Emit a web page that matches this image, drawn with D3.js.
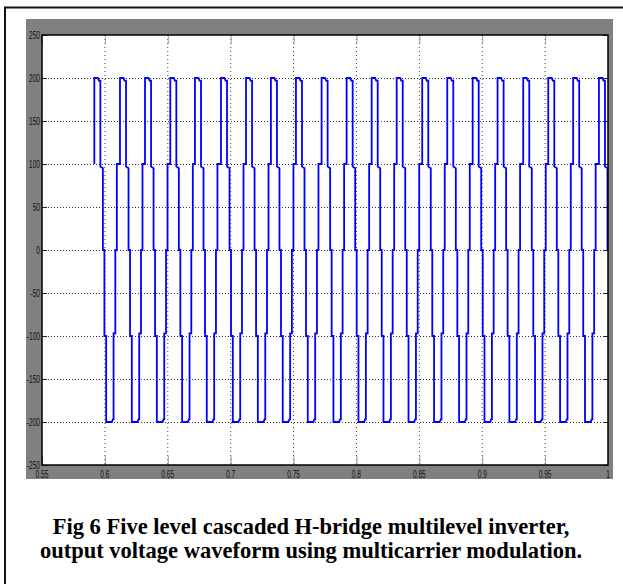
<!DOCTYPE html>
<html>
<head>
<meta charset="utf-8">
<script src="https://cdn.jsdelivr.net/npm/d3@7"></script>
<style>
  body { margin: 0; background: #fff; }
  svg { display: block; }
</style>
</head>
<body>
<script>
// rise times (s) of each 100 -> 200 edge
var riseTimes = [0.5916, 0.6120, 0.6319, 0.6520, 0.6716, 0.6923, 0.7122, 0.7320, 0.7519, 0.7723,
    0.7922, 0.8121, 0.8320, 0.8523, 0.8722, 0.8924, 0.9122, 0.9326, 0.9525, 0.9723, 0.9928];
// one cycle of the stepped waveform: time after the rise (ms) and level (V)
var stepTimes = [0, 0, 2.8, 3.6, 4.8, 4.8, 6.8, 6.8, 8.0, 8.0, 9.4, 9.4, 13.9, 14.7, 15.3, 15.3, 16.7, 16.7, 17.9, 17.9];
var stepLevels = [100, 200, 200, 197, 197, 97, 95, 0, 0, -100, -100, -200, -200, -197, -197, -97, -97, 0, 0, 100];
var xTicks = [0.55, 0.6, 0.65, 0.7, 0.75, 0.8, 0.85, 0.9, 0.95, 1];
var yTicks = [-250, -200, -150, -100, -50, 0, 50, 100, 150, 200, 250];

var width = 623;
var height = 584;

var margin = {
    left: 42,
    right: 15,
    top: 35,
    bottom: 119
}
var w = width - margin.left - margin.right;
var h = height - margin.top - margin.bottom;

// build the waveform points
var wave = [];
riseTimes.forEach(function (t0) {
    stepTimes.forEach(function (dt, i) {
        wave.push([t0 + dt / 1000, stepLevels[i]]);
    });
});

var x = d3.scaleLinear()
    .domain([0.55, 1])
    .range([0, w]);

var y = d3.scaleLinear()
    .domain([-250, 250])
    .range([h, 0]);

var svg = d3.select("body").append("svg").attr("width", width).attr("height", height);

// outer frame of the figure
svg.append("rect")
    .attr("x", 5).attr("y", 7.5)
    .attr("width", 700).attr("height", 700)
    .attr("fill", "none").attr("stroke", "#111").attr("stroke-width", 2);

// grey matlab figure background
svg.append("rect")
    .attr("x", 26).attr("y", 19)
    .attr("width", 587).attr("height", 460)
    .attr("fill", "#808080");

var chartGroup = svg.append("g").attr("transform",
    "translate(" + margin.left + ", " + margin.top + ")");

chartGroup.append("rect")
    .attr("width", w).attr("height", h)
    .attr("fill", "#fff");

// dotted grid
chartGroup.selectAll(".gx").data(xTicks.slice(1, -1)).enter().append("line")
    .attr("x1", function (d) { return x(d); }).attr("x2", function (d) { return x(d); })
    .attr("y1", 0).attr("y2", h)
    .attr("stroke", "#444").attr("stroke-width", 1).attr("stroke-dasharray", "1,3");
chartGroup.selectAll(".gy").data(yTicks.slice(1, -1)).enter().append("line")
    .attr("x1", 0).attr("x2", w)
    .attr("y1", function (d) { return Math.round(y(d)) + 0.5; })
    .attr("y2", function (d) { return Math.round(y(d)) + 0.5; })
    .attr("stroke", "#333").attr("stroke-width", 1).attr("stroke-dasharray", "1,2");

// inward ticks on every side
var tickStyle = function (g, col) {
    g.select(".domain").remove();
    g.selectAll("text").remove();
    g.selectAll("line").attr("stroke", col);
};
chartGroup.append("g").attr("transform", "translate(0," + h + ")")
    .call(d3.axisBottom(x).tickValues(xTicks).tickSize(-9))
    .call(tickStyle, "#999");
chartGroup.append("g")
    .call(d3.axisTop(x).tickValues(xTicks).tickSize(-9))
    .call(tickStyle, "#999");
chartGroup.append("g")
    .call(d3.axisLeft(y).tickValues(yTicks).tickSize(-5))
    .call(tickStyle, "#222");
chartGroup.append("g").attr("transform", "translate(" + w + ",0)")
    .call(d3.axisRight(y).tickValues(yTicks).tickSize(-5))
    .call(tickStyle, "#222");

// waveform
chartGroup.append("clipPath").attr("id", "plotclip")
    .append("rect").attr("width", w).attr("height", h);

var line = d3.line()
    .x(function (d) { return x(d[0]); })
    .y(function (d) { return y(d[1]); });

chartGroup.append("path")
    .attr("d", line(wave))
    .attr("clip-path", "url(#plotclip)")
    .attr("fill", "none")
    .attr("stroke", "#0000ff")
    .attr("stroke-width", 1.8);

// axes box
chartGroup.append("rect")
    .attr("width", w).attr("height", h)
    .attr("fill", "none").attr("stroke", "#000").attr("stroke-width", 1.5);

// condensed tick labels like the scaled matlab export
chartGroup.selectAll(".lx").data(xTicks).enter().append("text")
    .attr("transform", function (d) { return "translate(" + x(d) + "," + (h + 13) + ") scale(0.6,1)"; })
    .attr("text-anchor", "middle")
    .style("font-family", "Liberation Sans, Arial, sans-serif")
    .style("font-size", "11px")
    .attr("fill", "#111")
    .text(function (d) { return d; });
chartGroup.selectAll(".ly").data(yTicks).enter().append("text")
    .attr("transform", function (d) { return "translate(-2," + (y(d) + 4) + ") scale(0.6,1)"; })
    .attr("text-anchor", "end")
    .style("font-family", "Liberation Sans, Arial, sans-serif")
    .style("font-size", "11px")
    .attr("fill", "#111")
    .text(function (d) { return d; });

// caption
var caption = ["Fig 6 Five level cascaded H-bridge multilevel inverter,",
    "output voltage waveform using multicarrier modulation."];
svg.selectAll(".cap").data(caption).enter().append("text")
    .attr("x", 311).attr("y", function (d, i) { return 534 + i * 24; })
    .attr("text-anchor", "middle")
    .style("font-family", "Liberation Serif, Times New Roman, serif")
    .style("font-weight", "bold")
    .style("font-size", "22.5px")
    .attr("fill", "#000")
    .text(function (d) { return d; });
</script>
</body>
</html>
